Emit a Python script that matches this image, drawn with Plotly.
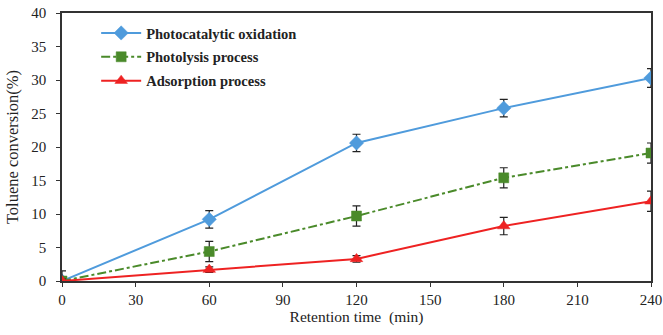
import plotly.graph_objects as go

time_min = [0, 60, 120, 180, 240]
photocatalytic = [0, 9.2, 20.6, 25.8, 30.3]
photocatalytic_err = [0.3, 1.3, 1.3, 1.3, 1.4]
photolysis = [0, 4.4, 9.7, 15.4, 19.1]
photolysis_err = [1.5, 1.5, 1.5, 1.5, 1.5]
adsorption = [0, 1.7, 3.3, 8.2, 11.9]
adsorption_err = [0.3, 0.4, 0.5, 1.3, 1.5]

x_ticks = [0, 30, 60, 90, 120, 150, 180, 210, 240]
y_ticks = [0, 5, 10, 15, 20, 25, 30, 35, 40]

font_family = "Liberation Serif, Times New Roman, serif"

fig = go.Figure()

def add(name, group, y, err, color, symbol, dash, msize):
    fig.add_trace(go.Scatter(
        x=time_min, y=y, name=name, legendgroup=group, mode="lines+markers",
        line=dict(color=color, width=2, dash=dash),
        marker=dict(symbol=symbol, size=msize, color=color,
                    line=dict(width=0.5, color=color)),
        error_y=dict(type="data", array=err, visible=True,
                     color="#222222", thickness=1.2, width=4),
    ))

add("<b>Photocatalytic oxidation</b>", "a", photocatalytic, photocatalytic_err,
    "#4f9bdc", "diamond", "solid", 11)
add("<b>Photolysis process</b>", "b", photolysis, photolysis_err,
    "#4a8a2a", "square", "dashdot", 10)
add("<b>Adsorption process</b>", "c", adsorption, adsorption_err,
    "#ee2222", "triangle-up", "solid", 11)

fig.update_layout(
    width=663, height=335,
    margin=dict(l=62, r=12, t=13, b=54),
    paper_bgcolor="white", plot_bgcolor="white",
    font=dict(family=font_family, size=15, color="#222222"),
    showlegend=True,
    legend=dict(x=0.058, y=0.985, xanchor="left", yanchor="top",
                bgcolor="rgba(0,0,0,0)", font=dict(size=14.5),
                itemwidth=40, tracegroupgap=2),
    xaxis=dict(
        range=[0, 240], tickmode="array", tickvals=x_ticks,
        showgrid=False, zeroline=False, automargin=False,
        showline=True, linecolor="#333333", linewidth=1.5, mirror=True,
        ticks="outside", ticklen=4, tickcolor="#333333",
        title=dict(text="Retention time  (min)", standoff=4,
                   font=dict(size=15.5)),
        tickfont=dict(size=15),
    ),
    yaxis=dict(
        range=[0, 40], tickmode="array", tickvals=y_ticks,
        showgrid=False, zeroline=False, automargin=False,
        showline=True, linecolor="#333333", linewidth=1.5, mirror=True,
        ticks="outside", ticklen=4, tickcolor="#333333",
        ticklabelstandoff=7,
        title=dict(text="Toluene conversion(%)", standoff=8,
                   font=dict(size=16.5)),
        tickfont=dict(size=15),
    ),
)

fig.write_html(
    "out.html",
    config={"displayModeBar": False},
    post_script="document.body.style.margin='0px';"
                "document.body.style.overflow='hidden';",
)
